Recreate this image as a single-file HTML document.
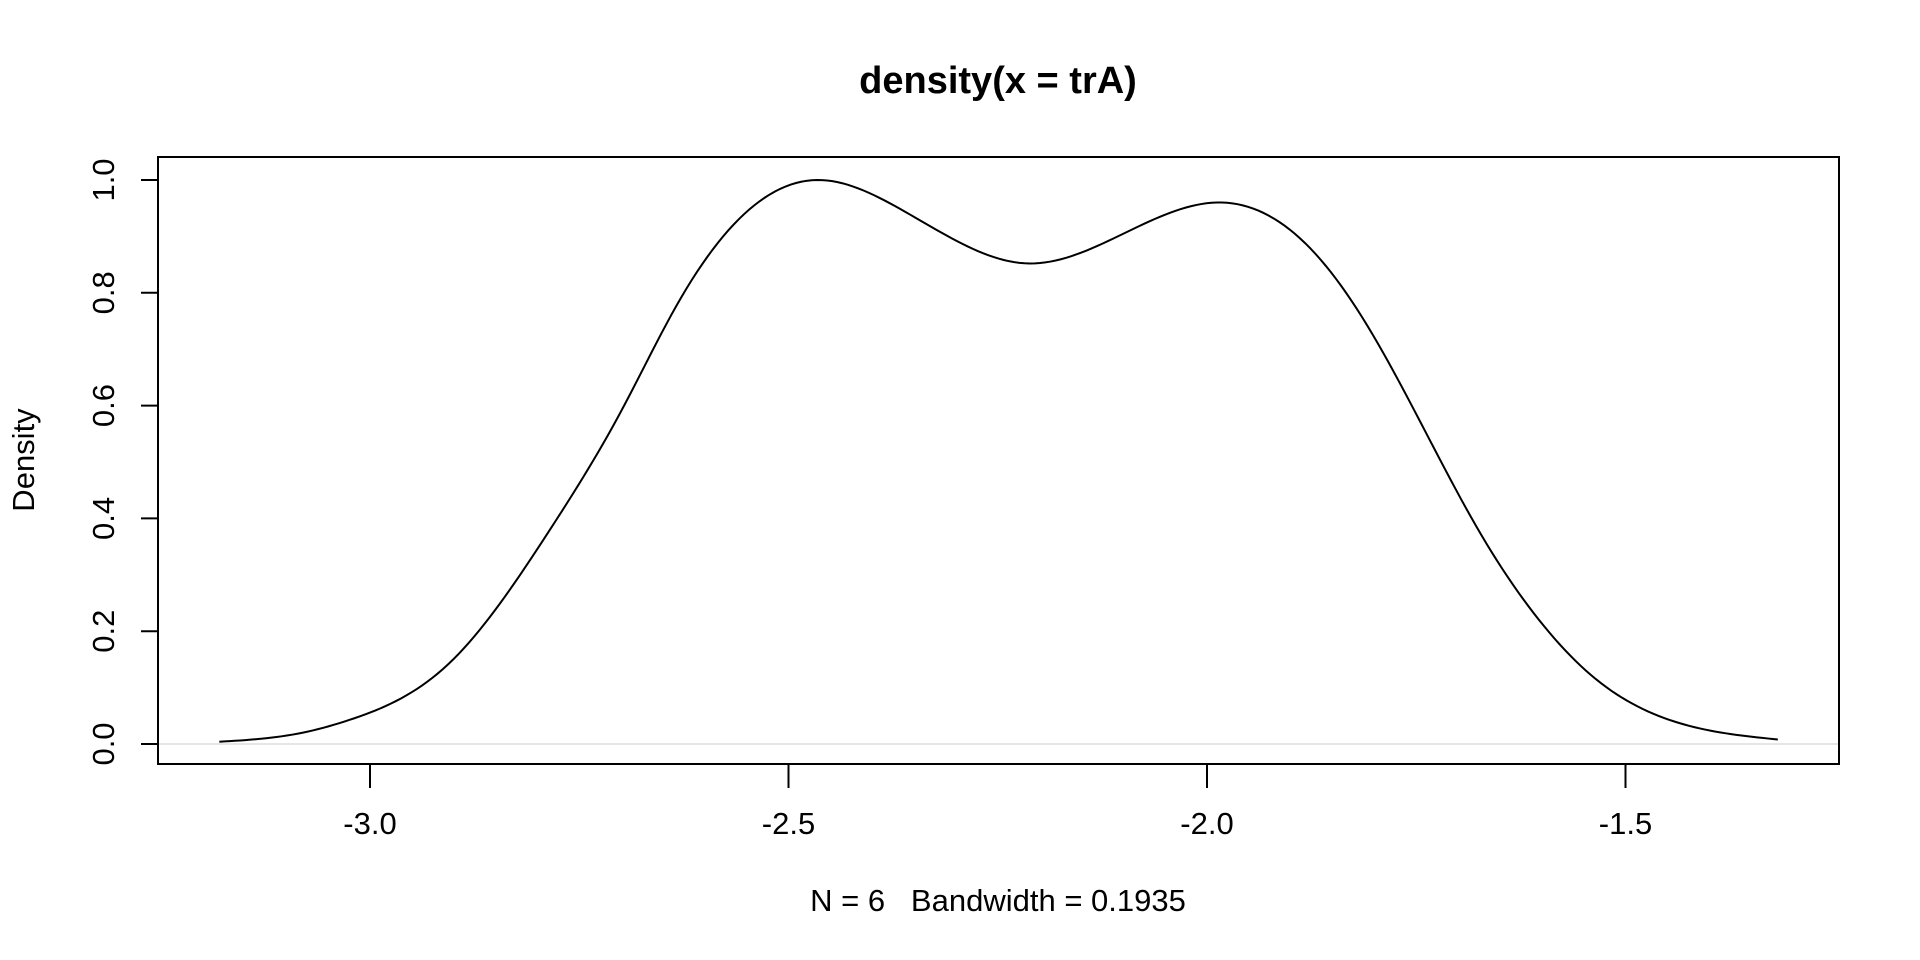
<!DOCTYPE html>
<html><head><meta charset="utf-8"><style>
html,body{margin:0;padding:0;background:#fff;}
svg{display:block;font-family:"Liberation Sans",Arial,sans-serif;}
</style></head><body>
<svg id="chart" width="1920" height="960" viewBox="0 0 1920 960" xmlns="http://www.w3.org/2000/svg">
<rect width="1920" height="960" fill="#fff"/>
<text x="998" y="93" text-anchor="middle" font-size="38" font-weight="bold">density(x = trA)</text>
<text x="998" y="911" text-anchor="middle" font-size="31" style="white-space:pre" xml:space="preserve">N = 6   Bandwidth = 0.1935</text>
<text transform="translate(34,460) rotate(-90)" text-anchor="middle" font-size="31">Density</text>
<g id="axes"></g>
<line id="zeroline" x1="158" x2="1839" stroke="#e6e6e6" stroke-width="2"/>
<path id="curve" fill="none" stroke="#000" stroke-width="2"/>
<rect x="158" y="157" width="1681" height="607" fill="none" stroke="#000" stroke-width="2"/>
</svg>
<script>
const xValues = [-3.180,-3.084,-3.024,-2.904,-2.785,-2.700,-2.632,-2.563,-2.467,-2.383,-2.303,-2.213,-2.108,-1.980,-1.880,-1.811,-1.743,-1.674,-1.606,-1.537,-1.446,-1.318];
const densityValues = [0.004,0.019,0.043,0.145,0.38,0.59,0.782,0.925,1.0,0.962,0.895,0.852,0.899,0.960,0.884,0.748,0.565,0.375,0.225,0.117,0.042,0.008];
const xTicks = [-3.0,-2.5,-2.0,-1.5];
const xTickLabels = ["-3.0","-2.5","-2.0","-1.5"];
const yTicks = [0,0.2,0.4,0.6,0.8,1.0];
const yTickLabels = ["0.0","0.2","0.4","0.6","0.8","1.0"];

const xs = v => 370 + (v + 3) * 837;
const ys = v => 744 - v * 564;
const NS = "http://www.w3.org/2000/svg";
const axes = document.getElementById('axes');
function mk(tag, attrs){const e=document.createElementNS(NS,tag);for(const k in attrs)e.setAttribute(k,attrs[k]);return e;}

const xl = mk('line',{x1:xs(xTicks[0]),x2:xs(xTicks[xTicks.length-1]),y1:764,y2:764,stroke:'#000','stroke-width':2});


axes.appendChild(xl);
xTicks.forEach((t,i)=>{
  const tk = mk('line',{x1:xs(t),x2:xs(t),y1:764,y2:788,stroke:'#000','stroke-width':2});
  
  
  axes.appendChild(tk);
  const tx = mk('text',{x:xs(t),y:834,'text-anchor':'middle','font-size':31});
  
  
  tx.textContent = xTickLabels[i];
  axes.appendChild(tx);
});
const yl = mk('line',{x1:158,x2:158,y1:ys(yTicks[0]),y2:ys(yTicks[yTicks.length-1]),stroke:'#000','stroke-width':2});


axes.appendChild(yl);
yTicks.forEach((t,i)=>{
  const tk = mk('line',{x1:141,x2:158,y1:ys(t),y2:ys(t),stroke:'#000','stroke-width':2});
  
  
  axes.appendChild(tk);
  const tx = mk('text',{transform:`translate(114,${ys(t)}) rotate(-90)`,'text-anchor':'middle','font-size':31});
  
  
  tx.textContent = yTickLabels[i];
  axes.appendChild(tx);
});
const zl = document.getElementById('zeroline');
zl.setAttribute('y1', ys(0)); zl.setAttribute('y2', ys(0));

function spline(X, Y){
  const n = X.length, h = [], a = [], l = [1], mu = [0], z = [0], c = new Array(n).fill(0), b = [], dd = [];
  for(let i=0;i<n-1;i++) h.push(X[i+1]-X[i]);
  for(let i=1;i<n-1;i++) a[i] = 3/h[i]*(Y[i+1]-Y[i]) - 3/h[i-1]*(Y[i]-Y[i-1]);
  for(let i=1;i<n-1;i++){
    l[i] = 2*(X[i+1]-X[i-1]) - h[i-1]*mu[i-1];
    mu[i] = h[i]/l[i];
    z[i] = (a[i]-h[i-1]*z[i-1])/l[i];
  }
  for(let j=n-2;j>=0;j--){
    c[j] = (j===0?0:z[j]) - (j===0?0:mu[j])*c[j+1];
    b[j] = (Y[j+1]-Y[j])/h[j] - h[j]*(c[j+1]+2*c[j])/3;
    dd[j] = (c[j+1]-c[j])/(3*h[j]);
  }
  return x => {
    let i = 0; while(i < n-2 && x > X[i+1]) i++;
    const t = x - X[i];
    return Y[i] + b[i]*t + c[i]*t*t + dd[i]*t*t*t;
  };
}
const f = spline(xValues, densityValues);
const x0 = xValues[0], x1 = xValues[xValues.length-1];
let d = '';
const N = 300;
for(let k=0;k<=N;k++){
  const x = x0 + (x1-x0)*k/N;
  d += (k?' L':'M') + xs(x).toFixed(2) + ',' + ys(f(x)).toFixed(2);
}
document.getElementById('curve').setAttribute('d', d);
</script>
</body></html>
